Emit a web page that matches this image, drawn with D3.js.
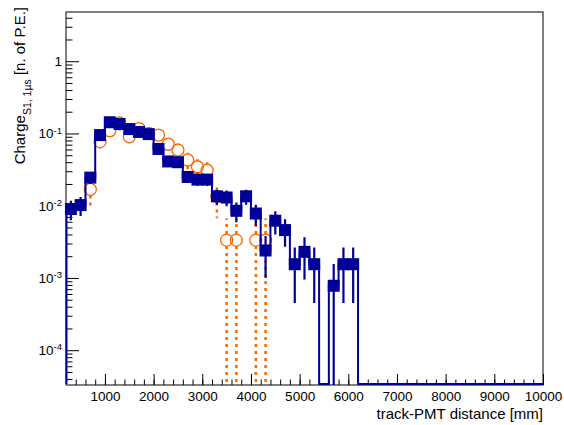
<!DOCTYPE html>
<html><head><meta charset="utf-8">
<script src="https://cdn.jsdelivr.net/npm/d3@7"></script>
<style>
body{margin:0;background:#fff}
text{font-family:"Liberation Sans",Arial,Helvetica,sans-serif}
</style>
</head><body>
<svg id="c" width="564" height="425"></svg>
<script>
// ---- data ----
const binCenters = [300,500,700,900,1100,1300,1500,1700,1900,2100,2300,2500,2700,2900,3100,3300,3500,3700,3900,4100,
  4300,4500,4700,4900,5100,5300,5500,5700,5900,6100,6300,6500,6700,6900,7100,7300,7500,7700,7900,8100,
  8300,8500,8700,8900,9100,9300,9500,9700,9900];
const blueValues = [0.0090,0.0102,0.0245,0.095,0.143,0.135,0.115,0.105,0.098,0.061,
  0.041,0.040,0.025,0.023,0.023,0.0135,0.013,0.0085,0.0135,0.0078,
  0.0024,0.0062,0.0046,0.00155,0.0023,0.00155,0,0.00078,0.00155,0.00155,
  0,0,0,0,0,0,0,0,0,0, 0,0,0,0,0,0,0,0,0];
const blueErrors = [0.0027,0.003,0.0045,0.009,0.011,0.010,0.0095,0.009,0.0088,0.007,
  0.0057,0.0056,0.0044,0.0042,0.0042,0.0032,0.0032,0.0026,0.0032,0.0025,
  0.0014,0.0022,0.0019,0.0011,0.00135,0.0011,0,0.00078,0.0011,0.0011,
  0,0,0,0,0,0,0,0,0,0, 0,0,0,0,0,0,0,0,0];
const orangeValues = [0,0,0.0168,0.077,0.109,0.14,0.090,0.117,0.10,0.095,
  0.071,0.059,0.043,0.0346,0.031,0.0134,0.00334,0.00334,0,0.00334,
  0.00334,0,0,0,0,0,0,0,0,0, 0,0,0,0,0,0,0,0,0,0, 0,0,0,0,0,0,0,0,0];
const orangeErrors = [0,0,0.0075,0.015,0.018,0.03,0.016,0.018,0.017,0.016,
  0.014,0.012,0.011,0.0095,0.009,0.0067,0.00334,0.00334,0,0.00334,
  0.00334,0,0,0,0,0,0,0,0,0, 0,0,0,0,0,0,0,0,0,0, 0,0,0,0,0,0,0,0,0];
const xMajorTicks = [1000,2000,3000,4000,5000,6000,7000,8000,9000,10000];
const xTickLabels = ["1000","2000","3000","4000","5000","6000","7000","8000","9000","10000"];
const yMajorTicks = [1e-4,1e-3,1e-2,1e-1,1];
const yTickBase = ["10","10","10","10","1"];
const yTickExp  = ["-4","-3","-2","-1",""];
const binHalfWidth = 100;

// ---- layout ----
const L=66, R=543, T=12, B=385;
const svg = d3.select("#c");
svg.append("rect").attr("width",564).attr("height",425).attr("fill","#fff");
const x = d3.scaleLinear().domain([200,10000]).range([L,R]);
const y = d3.scaleLog().domain([3.3e-5,4.8]).range([B,T]);
const yc = v => v>0 ? Math.min(B, y(v)) : B;
const ys = v => v>0 ? Math.min(B-1, y(v)) : B-1;

svg.append("clipPath").attr("id","clip").append("rect")
  .attr("x",L-1.5).attr("y",T).attr("width",R-L+1.5).attr("height",B-T+1);

const BLUE="#000099", ORANGE="#ff6600";

// frame + axes first (marks drawn on top)
svg.append("rect").attr("x",L).attr("y",T).attr("width",R-L).attr("height",B-T)
  .attr("fill","none").attr("stroke","#000").attr("stroke-width",1);

const gx = svg.append("g").attr("transform",`translate(0,${B})`);
gx.call(d3.axisBottom(x).tickValues(d3.range(400,10001,200)).tickSizeInner(-5.5).tickSizeOuter(0).tickFormat(""));
const gx2 = svg.append("g").attr("transform",`translate(0,${B})`);
gx2.call(d3.axisBottom(x).tickValues(xMajorTicks).tickSizeInner(-11).tickSizeOuter(0).tickPadding(6)
  .tickFormat((d,i)=>xTickLabels[i]));
[gx,gx2].forEach(g=>{g.select(".domain").remove(); g.selectAll("line").attr("stroke","#000");});
gx2.selectAll("text").attr("font-size","13.5px").attr("fill","#000")
  .attr("font-family",'"Liberation Sans",Arial,sans-serif');

const gy = svg.append("g").attr("transform",`translate(${L},0)`);
const minorY = y.ticks().filter(v=>!yMajorTicks.some(m=>Math.abs(m-v)/m<1e-6));
gy.call(d3.axisLeft(y).tickValues(minorY).tickSizeInner(-6.5).tickSizeOuter(0).tickFormat(""));
const gy2 = svg.append("g").attr("transform",`translate(${L},0)`);
gy2.call(d3.axisLeft(y).tickValues(yMajorTicks).tickSizeInner(-13).tickSizeOuter(0).tickPadding(4).tickFormat(""));
[gy,gy2].forEach(g=>{g.select(".domain").remove(); g.selectAll("line").attr("stroke","#000");});
gy2.selectAll(".tick text").each(function(d,i){
  const t = d3.select(this).attr("font-size","13.5px").attr("fill","#000")
    .attr("font-family",'"Liberation Sans",Arial,sans-serif');
  t.text(null);
  t.append("tspan").text(yTickBase[i]);
  if (yTickExp[i]) t.append("tspan").attr("dy","-0.5em").attr("font-size","9.5px").text(yTickExp[i]);
});

// orange series
const og = svg.append("g").attr("clip-path","url(#clip)");
const oIdx = d3.range(binCenters.length).filter(i=>orangeValues[i]>0);
const rC = 6;
oIdx.forEach(i=>{
  const cx = x(binCenters[i]), cy = y(orangeValues[i]);
  const yt = yc(orangeValues[i]+orangeErrors[i]);
  const yb = yc(orangeValues[i]-orangeErrors[i]);
  if (yt < cy-rC) og.append("line").attr("x1",cx).attr("x2",cx).attr("y1",cy-rC).attr("y2",yt)
    .attr("stroke",ORANGE).attr("stroke-width",2.5).attr("stroke-dasharray","3,4");
  if (yb > cy+rC) og.append("line").attr("x1",cx).attr("x2",cx).attr("y1",cy+rC).attr("y2",yb)
    .attr("stroke",ORANGE).attr("stroke-width",2.5).attr("stroke-dasharray","3,4");
});
og.selectAll("circle").data(oIdx).join("circle")
  .attr("cx",i=>x(binCenters[i])).attr("cy",i=>y(orangeValues[i])).attr("r",rC)
  .attr("fill","none").attr("stroke",ORANGE).attr("stroke-width",1.3);

// blue series
const bg = svg.append("g").attr("clip-path","url(#clip)");
const pts = [[200,0]];
binCenters.forEach((c,i)=>{ pts.push([c-binHalfWidth,blueValues[i]]); pts.push([c+binHalfWidth,blueValues[i]]); });
bg.append("path").attr("d", d3.line().x(d=>Math.max(L+0.5, x(d[0]))).y(d=>ys(d[1]))(pts))
  .attr("fill","none").attr("stroke",BLUE).attr("stroke-width",2);
const bIdx = d3.range(binCenters.length).filter(i=>blueValues[i]>0);
bg.selectAll("line.err").data(bIdx).join("line").attr("class","err")
  .attr("x1",i=>x(binCenters[i])).attr("x2",i=>x(binCenters[i]))
  .attr("y1",i=>yc(blueValues[i]+blueErrors[i])).attr("y2",i=>yc(blueValues[i]-blueErrors[i]))
  .attr("stroke",BLUE).attr("stroke-width",2.2);
bg.selectAll("rect.m").data(bIdx).join("rect").attr("class","m")
  .attr("x",i=>x(binCenters[i])-6).attr("y",i=>y(blueValues[i])-6)
  .attr("width",12).attr("height",12).attr("fill",BLUE);

// titles
svg.append("text").attr("x",R).attr("y",419).attr("text-anchor","end")
  .attr("font-size","15px").attr("fill","#000").text("track-PMT distance [mm]");
const yt = svg.append("text").attr("transform","translate(25,7) rotate(-90)")
  .attr("text-anchor","end").attr("font-size","15px").attr("fill","#000");
yt.append("tspan").text("Charge");
yt.append("tspan").attr("font-size","10.5px").attr("dy","6").text("S1, 1µs");
yt.append("tspan").attr("dy","-6").text(" [n. of P.E.]");
</script>
</body></html>
